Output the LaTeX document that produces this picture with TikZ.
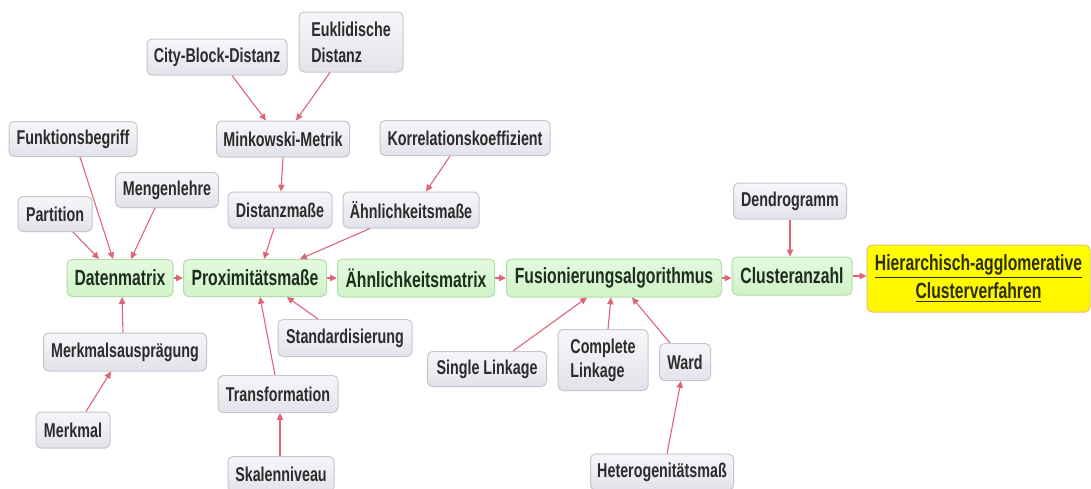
\documentclass[tikz,border=0pt]{standalone}
\usepackage{fontspec}
\newfontfamily\nf{Liberation Sans}[FakeStretch=0.715]
\usetikzlibrary{arrows.meta,calc}
\definecolor{arr}{HTML}{DE6478}
\definecolor{gborder}{HTML}{C6C6CE}
\definecolor{gtop}{HTML}{F6F6FA}
\definecolor{gbot}{HTML}{E2E2EA}
\definecolor{gtext}{HTML}{2C2C2C}
\definecolor{grborder}{HTML}{B2DCAA}
\definecolor{grtop}{HTML}{E4FADE}
\definecolor{grbot}{HTML}{CFF3C6}
\definecolor{grtext}{HTML}{1E2E1E}
\definecolor{yborder}{HTML}{E8C070}
\definecolor{ytext}{HTML}{2E2E10}
\begin{document}
\begin{tikzpicture}[x=0.5pt,y=-0.5pt,
  box/.style={draw=gborder, rounded corners=2.5pt, top color=gtop, bottom color=gbot,
    font=\nf\bfseries\fontsize{10}{12}\selectfont, text=gtext, inner sep=0pt, line width=0.5pt},
  gbox/.style={box, draw=grborder, top color=grtop, bottom color=grbot,
    font=\nf\bfseries\fontsize{11}{13}\selectfont, text=grtext},
  ybox/.style={box, draw=yborder, top color=yellow, bottom color=yellow!92!orange,
    font=\nf\bfseries\fontsize{11}{14}\selectfont, text=ytext, align=center},
  conn/.style={draw=arr, line width=0.55pt, -{Triangle[length=3.4pt,width=3.2pt]}}]
\useasboundingbox (0,0) rectangle (1091,488);
\fill[white] (0,0) rectangle (1091,488);

% top gray nodes
\node[box, minimum width=70pt, minimum height=18pt] (cb) at (217,57) {City-Block-Distanz};
\node[box, minimum width=52pt, minimum height=30pt, align=left, font=\nf\bfseries\fontsize{10}{13}\selectfont] (eu) at (351,42) {Euklidische\\Distanz};
\node[box, minimum width=66.5pt, minimum height=18pt] (mk) at (283,139) {Minkowski-Metrik};
\node[box, minimum width=64pt, minimum height=17.5pt] (fb) at (73,139) {Funktionsbegriff};
\node[box, minimum width=85pt, minimum height=17.5pt] (ko) at (465,138) {Korrelationskoeffizient};
\node[box, minimum width=37pt, minimum height=17.5pt] (pa) at (55,214) {Partition};
\node[box, minimum width=51.5pt, minimum height=17.5pt] (ml) at (167,190) {Mengenlehre};
\node[box, minimum width=52pt, minimum height=18pt] (dm) at (280,210) {Distanzmaße};
\node[box, minimum width=68pt, minimum height=18pt] (am) at (411,210) {Ähnlichkeitsmaße};
\node[box, minimum width=56.5pt, minimum height=18pt] (de) at (790,201) {Dendrogramm};

% main row
\node[gbox, minimum width=53pt, minimum height=18.5pt] (dx) at (120,278) {Datenmatrix};
\node[gbox, minimum width=71.5pt, minimum height=18.5pt] (px) at (255,278) {Proximitätsmaße};
\node[gbox, minimum width=78.5pt, minimum height=19pt] (ax) at (416,278) {Ähnlichkeitsmatrix};
\node[gbox, minimum width=107.5pt, minimum height=19pt] (fu) at (614,278) {Fusionierungsalgorithmus};
\node[gbox, minimum width=60pt, minimum height=19pt] (ca) at (792,276) {Clusteranzahl};
\node[ybox, minimum width=111.5pt, minimum height=33.5pt] (hc) at (978.5,278.5) {\underline{Hierarchisch-agglomerative}\\\underline{Clusterverfahren}};

% bottom gray nodes
\node[box, minimum width=67pt, minimum height=18.5pt] (st) at (345,338) {Standardisierung};
\node[box, minimum width=81.5pt, minimum height=19pt] (ma) at (125,352) {Merkmalsausprägung};
\node[box, minimum width=37pt, minimum height=18pt] (mm) at (73,430) {Merkmal};
\node[box, minimum width=60pt, minimum height=18.5pt] (tr) at (278,394) {Transformation};
\node[box, minimum width=53pt, minimum height=17.5pt] (sk) at (281,474) {Skalenniveau};
\node[box, minimum width=59.5pt, minimum height=17.5pt] (sl) at (487,369) {Single Linkage};
\node[box, minimum width=45pt, minimum height=30.5pt, align=left] (cl) at (603,360) {Complete\\Linkage};
\node[box, minimum width=25.5pt, minimum height=18.5pt] (wa) at (685,362) {Ward};
\node[box, minimum width=71.5pt, minimum height=18pt] (he) at (662,472) {Heterogenitätsmaß};

% connectors
\draw[conn] ($(cb.south)+(15,0)$) -- ($(mk.north)+(-17,0)$);
\draw[conn] ($(eu.south)+(-21,0)$) -- ($(mk.north)+(13,0)$);
\draw[conn] (mk.south) -- ($(dm.north)+(1,0)$);
\draw[conn] ($(ko.south)+(-15,0)$) -- ($(am.north)+(15,0)$);
\draw[conn] ($(fb.south)+(7,0)$) -- ($(dx.north)+(-7,0)$);
\draw[conn] ($(pa.south)+(18,0)$) -- ($(dx.north)+(-21,0)$);
\draw[conn] ($(ml.south)+(-12,0)$) -- ($(dx.north)+(11,0)$);
\draw[conn] ($(ma.north)+(-2,0)$) -- ($(dx.south)+(2,0)$);
\draw[conn] ($(mm.north)+(13,0)$) -- ($(ma.south)+(-14,0)$);
\draw[conn] ($(dm.south)+(-6,0)$) -- ($(px.north)+(9,0)$);
\draw[conn] ($(am.south)+(-41,0)$) -- ($(px.north)+(45,0)$);
\draw[conn] ($(tr.north)+(-3,0)$) -- ($(px.south)+(5,0)$);
\draw[conn] ($(st.north)+(-27,0)$) -- ($(px.south)+(32,0)$);
\draw[conn] ($(sk.north)+(-1,0)$) -- ($(tr.south)+(2,0)$);
\draw[conn] (dx.east) -- (px.west);
\draw[conn] (px.east) -- (ax.west);
\draw[conn] (ax.east) -- (fu.west);
\draw[conn] (fu.east) -- (fu.east -| ca.west);
\draw[conn] (ca.east) -- (ca.east -| hc.west);
\draw[conn] (de.south) -- (de.south |- ca.north);
\draw[conn] ($(sl.north)+(26,0)$) -- ($(fu.south)+(-27,0)$);
\draw[conn] ($(cl.north)+(5,0)$) -- ($(fu.south)+(-3,0)$);
\draw[conn] ($(wa.north)+(-15,0)$) -- ($(fu.south)+(18,0)$);
\draw[conn] ($(he.north)+(5,0)$) -- ($(wa.south)+(-4,0)$);
\end{tikzpicture}
\end{document}
